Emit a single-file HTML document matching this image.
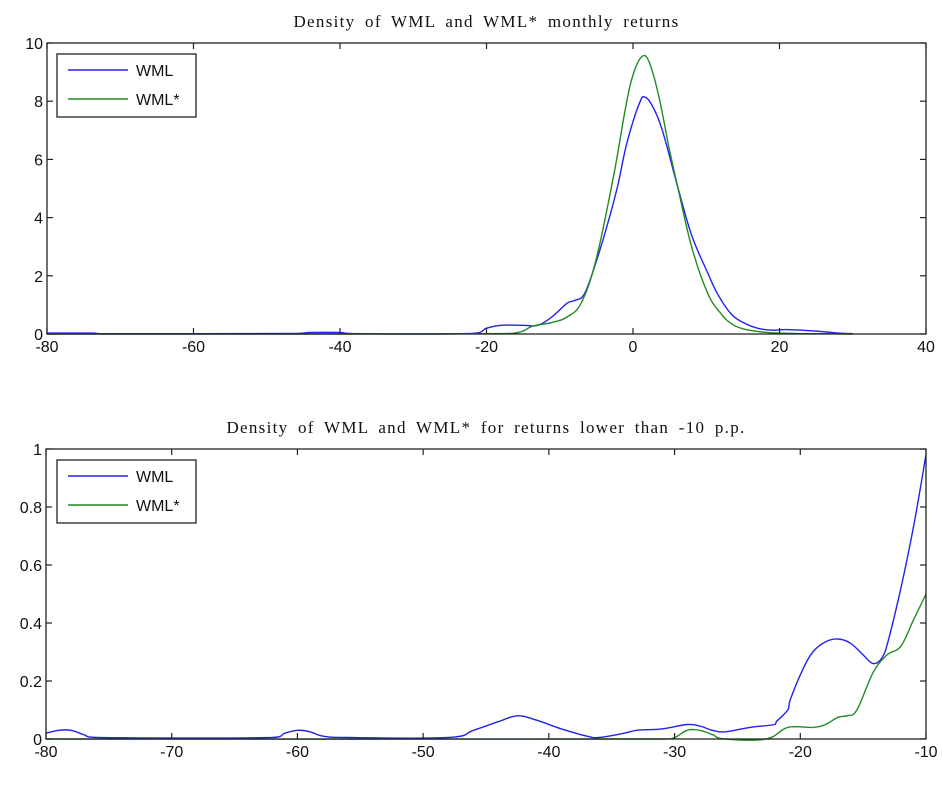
<!DOCTYPE html>
<html><head><meta charset="utf-8">
<style>
html,body{margin:0;padding:0;background:#fff;}
svg{display:block;}
.tick{font-family:"Liberation Sans",sans-serif;font-size:16px;fill:#111;}
.title{font-family:"Liberation Serif",serif;font-size:17px;fill:#111;letter-spacing:1.3px;word-spacing:4px;}
</style></head>
<body>
<svg id="chart" width="942" height="792" viewBox="0 0 942 792" xmlns="http://www.w3.org/2000/svg"></svg>
<script>
// Top panel data
const topXTicks = [-80,-60,-40,-20,0,20,40];
const topYTicks = [0,2,4,6,8,10];
const topWmlX = [-80,-74,-72,-46,-44,-40,-38,-22,-20,-18,-15,-13,-11,-9,-8,-6.6,-4.8,-3,-2,-1,0,1,1.5,2.5,4,6.1,8,10.2,11.5,13.3,15,17,19,21,25,28,30];
const topWmlY = [0.03,0.03,0.01,0.02,0.05,0.05,0.01,0.02,0.2,0.3,0.3,0.3,0.6,1.06,1.15,1.4,2.66,4.2,5.2,6.4,7.3,8.0,8.15,7.9,7.0,5.06,3.4,2.1,1.4,0.72,0.4,0.2,0.13,0.15,0.1,0.03,0.01];
const topStarX = [-80,-40,-20,-15.7,-13.7,-11,-8.9,-7,-5,-2.6,-1,0,1.2,2.2,3.5,5,6.1,8,10.2,12,13.3,15,18,22,26,30];
const topStarY = [0,0,0.01,0.05,0.27,0.4,0.6,1.1,2.6,5.5,7.8,8.9,9.53,9.35,8.2,6.3,5.06,3.0,1.4,0.7,0.38,0.18,0.06,0.02,0.01,0];
// Bottom panel data
const botXTicks = [-80,-70,-60,-50,-40,-30,-20,-10];
const botYTicks = [0,0.2,0.4,0.6,0.8,1];
const botWmlX = [-80,-79,-78,-77,-76,-62,-61,-60,-59,-58,-56,-48,-46,-44,-42.5,-41,-39,-37,-36,-34,-33,-31,-29,-28,-27,-26,-24,-22,-21.9,-21,-20.8,-19.8,-19,-18,-17,-16,-15,-14.2,-13.5,-13,-12,-11,-10];
const botWmlY = [0.02,0.03,0.03,0.015,0.005,0.005,0.02,0.03,0.025,0.01,0.005,0.005,0.03,0.06,0.08,0.065,0.035,0.01,0.005,0.02,0.03,0.035,0.05,0.045,0.03,0.025,0.04,0.05,0.06,0.1,0.135,0.24,0.3,0.335,0.345,0.33,0.29,0.26,0.28,0.34,0.52,0.73,0.98];
const botStarX = [-80,-31,-30,-29,-28,-27,-26,-22.7,-21,-19,-18,-17,-16.3,-15.5,-14.2,-13.1,-12,-11,-10];
const botStarY = [0,0,0.005,0.03,0.03,0.015,0,0,0.04,0.04,0.05,0.075,0.08,0.1,0.23,0.29,0.32,0.41,0.5];

const NS="http://www.w3.org/2000/svg";
const svg=document.getElementById('chart');
function mk(tag,attrs,parent){const e=document.createElementNS(NS,tag);for(const k in attrs)e.setAttribute(k,attrs[k]);(parent||svg).appendChild(e);return e;}

function smoothPath(P){
  let d='M'+P[0][0].toFixed(1)+','+P[0][1].toFixed(1);
  for(let i=0;i<P.length-1;i++){
    const p0=P[Math.max(0,i-1)],p1=P[i],p2=P[i+1],p3=P[Math.min(P.length-1,i+2)];
    const t=0.18;
    let c1x=p1[0]+(p2[0]-p0[0])*t,c1y=p1[1]+(p2[1]-p0[1])*t;
    let c2x=p2[0]-(p3[0]-p1[0])*t,c2y=p2[1]-(p3[1]-p1[1])*t;
    c1x=Math.min(Math.max(c1x,p1[0]),p2[0]);c2x=Math.min(Math.max(c2x,p1[0]),p2[0]);
    d+=' C'+c1x.toFixed(1)+','+c1y.toFixed(1)+' '+c2x.toFixed(1)+','+c2y.toFixed(1)+' '+p2[0].toFixed(1)+','+p2[1].toFixed(1);
  }
  return d;
}

function panel(p){
  const g=mk('g',{});
  
  
  const sx=v=>p.x0+(v-p.xmin)/(p.xmax-p.xmin)*(p.x1-p.x0);
  const sy=v=>p.y0-(v-p.ymin)/(p.ymax-p.ymin)*(p.y0-p.y1);
  const t=mk('text',{x:(p.x0+p.x1)/2,y:p.y1-16,'text-anchor':'middle',class:'title'},g);
  t.textContent=p.title;
  
  
  p.series.forEach(s=>{
    const P=s.x.map((v,i)=>[sx(v),Math.min(sy(s.y[i]),p.y0)]);
    const l=mk('path',{d:smoothPath(P),fill:'none',stroke:s.color,'stroke-width':1.4,'stroke-linejoin':'round'},g);
    
    
  });
  const b=mk('rect',{x:p.x0,y:p.y1,width:p.x1-p.x0,height:p.y0-p.y1,fill:'none',stroke:'#222','stroke-width':1.3},g);
  
  
  p.xt.forEach(v=>{
    const x=sx(v);
    mk('line',{x1:x,x2:x,y1:p.y0,y2:p.y0-6,stroke:'#222','stroke-width':1.2},g);
    mk('line',{x1:x,x2:x,y1:p.y1,y2:p.y1+6,stroke:'#222','stroke-width':1.2},g);
    const tx=mk('text',{x:x,y:p.y0+18,'text-anchor':'middle',class:'tick'},g);
    tx.textContent=String(v);
    
    
  });
  p.yt.forEach(v=>{
    const y=sy(v);
    mk('line',{x1:p.x0,x2:p.x0+6,y1:y,y2:y,stroke:'#222','stroke-width':1.2},g);
    mk('line',{x1:p.x1,x2:p.x1-6,y1:y,y2:y,stroke:'#222','stroke-width':1.2},g);
    const ty=mk('text',{x:p.x0-4,y:y+6,'text-anchor':'end',class:'tick'},g);
    ty.textContent=String(v);
    
    
  });
  const lg=mk('g',{},g);
  
  
  mk('rect',{x:57,y:p.y1+11,width:139,height:63,fill:'#fff',stroke:'#222','stroke-width':1.3},lg);
  p.series.forEach((s,i)=>{
    const yy=p.y1+27+i*29;
    const e=mk('g',{},lg);
    
    
    mk('line',{x1:68,x2:128,y1:yy,y2:yy,stroke:s.color,'stroke-width':1.4},e);
    const lt=mk('text',{x:136,y:yy+6,class:'tick'},e);
    lt.textContent=s.label;
  });
}

panel({name:'top-panel',title:'Density of WML and WML* monthly returns',
  x0:47,x1:926,y0:334,y1:43,xmin:-80,xmax:40,ymin:0,ymax:10,xt:topXTicks,yt:topYTicks,
  series:[{name:'wml-line',label:'WML',color:'#2222ee',x:topWmlX,y:topWmlY},
          {name:'wml-star-line',label:'WML*',color:'#228b22',x:topStarX,y:topStarY}]});
panel({name:'bottom-panel',title:'Density of WML and WML* for returns lower than -10 p.p.',
  x0:46,x1:926,y0:739,y1:449,xmin:-80,xmax:-10,ymin:0,ymax:1,xt:botXTicks,yt:botYTicks,
  series:[{name:'wml-line',label:'WML',color:'#2222ee',x:botWmlX,y:botWmlY},
          {name:'wml-star-line',label:'WML*',color:'#228b22',x:botStarX,y:botStarY}]});
</script>
</body></html>
